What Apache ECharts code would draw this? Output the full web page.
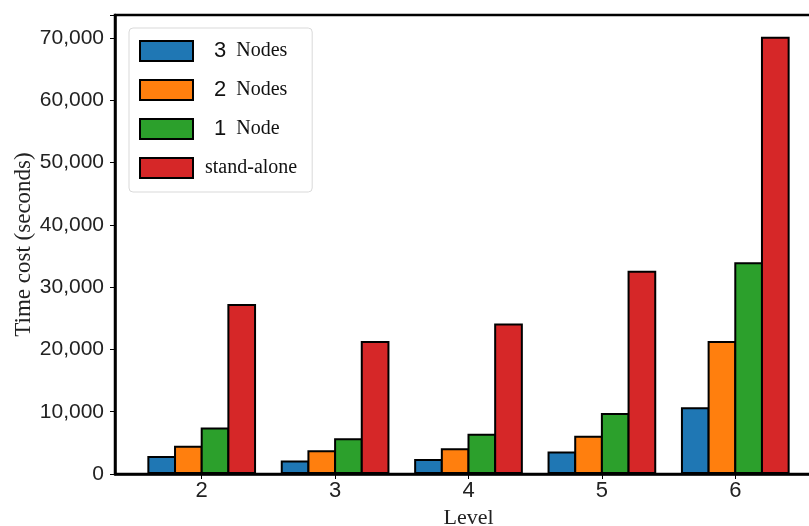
<!DOCTYPE html>
<html lang="en">
	<head>
		<meta charset="UTF-8">
		<title></title>
		<style type="text/css">
			html,
			body,
			#main {
				padding: 0;
				margin: 0;
				overflow: hidden;
				background-color: #fff;
				width: 809px;
				height: 526px;
			}
		</style>
	</head>
	<body>
		<div id="main"></div>
		<script type="text/javascript" src="https://cdn.jsdelivr.net/npm/echarts@6/dist/echarts.min.js"></script>
		<script type="text/javascript">
			// levels on the x axis
			const levels = [2, 3, 4, 5, 6];
			const seriesNames = ['3 Nodes', '2 Nodes', '1 Node', 'stand-alone'];
			const nodes3 = [2900, 2150, 2400, 3600, 10700];
			const nodes2 = [4550, 3800, 4150, 6150, 21350];
			const nodes1 = [7450, 5750, 6450, 9800, 34000];
			const standAlone = [27300, 21350, 24150, 32650, 70200];
			const yTicks = [0, 10000, 20000, 30000, 40000, 50000, 60000, 70000];
			const colors = ['#1f77b4', '#ff7f0e', '#2ca02c', '#d62728'];

			const allValues = [nodes3, nodes2, nodes1, standAlone];

			function makeSeries (i) {
				return {
					name: seriesNames[i],
					type: 'bar',
					// echarts pulls the border inside the bar, so overlap by the border width
					barWidth: '21.5%',
					barGap: '-7%',
					data: levels.map(function (lv, k) { return [lv, allValues[i][k]]; }),
					itemStyle: {
						color: colors[i],
						borderColor: '#000',
						borderWidth: 2
					}
				};
			}

			// legend text: the number in sans, the word in serif
			function legendLabel (name) {
				const parts = name.split(' ');
				if (parts.length === 2) {
					return '{n|' + parts[0] + '}{t|' + parts[1] + '}';
				}
				return '{s|' + name + '}';
			}

			const chart = echarts.init(document.getElementById('main'));
			chart.setOption({
				animation: false,
				grid: {
					left: 115,
					right: -13,
					top: 15,
					bottom: 52,
					outerBoundsMode: 'none',
					show: true,
					borderColor: '#000',
					borderWidth: 2.5,
					backgroundColor: 'transparent'
				},
				legend: {
					orient: 'vertical',
					left: 129,
					top: 28,
					padding: [12, 15, 13, 10],
					itemWidth: 53,
					itemHeight: 20,
					itemGap: 17,
					icon: 'rect',
					backgroundColor: '#fff',
					borderColor: '#d9d9d9',
					borderWidth: 1,
					borderRadius: 4,
					formatter: legendLabel,
					textStyle: {
						rich: {
							n: { fontFamily: 'Liberation Sans', fontSize: 22, lineHeight: 20, color: '#111', padding: [0, 10, 0, 16] },
							t: { fontFamily: 'Liberation Serif', fontSize: 20, lineHeight: 20, color: '#111' },
							s: { fontFamily: 'Liberation Serif', fontSize: 20, lineHeight: 20, color: '#111', padding: [0, 0, 0, 7] }
						}
					},
					data: seriesNames
				},
				xAxis: {
					type: 'value',
					min: 1.35,
					max: 6.65,
					name: 'Level',
					nameLocation: 'middle',
					nameGap: 31,
					nameTextStyle: { fontFamily: 'Liberation Serif', fontSize: 22, color: '#222' },
					splitLine: { show: false },
					axisLine: { show: true, lineStyle: { color: '#000', width: 2.5 } },
					axisTick: { show: true, length: 5, lineStyle: { color: '#000', width: 1 }, customValues: levels },
					axisLabel: {
						customValues: levels,
						fontFamily: 'Liberation Sans',
						fontSize: 22,
						color: '#222',
						margin: 6
					}
				},
				yAxis: {
					type: 'value',
					min: 0,
					max: 73700,
					interval: 10000,
					name: 'Time cost (seconds)',
					nameLocation: 'middle',
					nameGap: 80,
					nameMoveOverlap: false,
					nameTextStyle: { fontFamily: 'Liberation Serif', fontSize: 23, color: '#222' },
					splitLine: { show: false },
					axisLine: { show: true, lineStyle: { color: '#000', width: 2.5 } },
					axisTick: { show: true, length: 5, lineStyle: { color: '#000', width: 1 } },
					axisLabel: {
						customValues: yTicks,
						fontFamily: 'Liberation Sans',
						fontSize: 21,
						color: '#222',
						margin: 11,
						formatter: function (v) { return v.toLocaleString('en-US'); }
					}
				},
				series: [makeSeries(0), makeSeries(1), makeSeries(2), makeSeries(3)]
			});
		</script>
	</body>
</html>
